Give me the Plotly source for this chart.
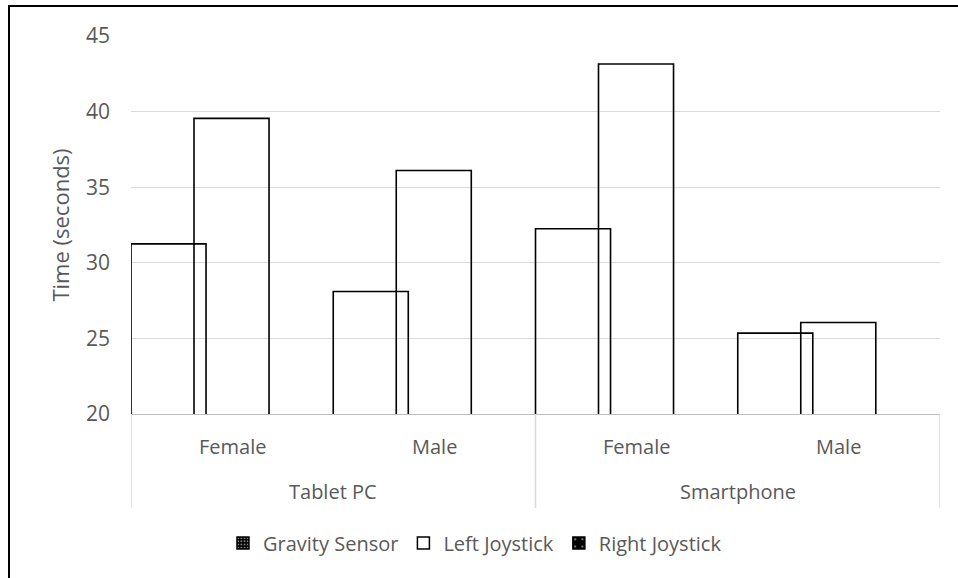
import plotly.graph_objects as go

devices = ["Tablet PC", "Tablet PC", "Smartphone", "Smartphone"]
genders = ["Female", "Male", "Female", "Male"]
gravity_sensor = [31.25, 28.1, 32.25, 25.35]
left_joystick = [39.55, 36.1, 43.15, 26.05]
right_joystick = [None, None, None, None]
y_ticks = [20, 25, 30, 35, 40, 45]

FONT = "Open Sans"
TXT = "#595959"
GRID = "#d9d9d9"

BW = 0.371
STEP = 0.3115

xpos = list(range(len(genders)))

fig = go.Figure()
series = [("Gravity Sensor", gravity_sensor), ("Left Joystick", left_joystick),
          ("Right Joystick", right_joystick)]
for i, (name, vals) in enumerate(series):
    fig.add_trace(go.Bar(
        x=xpos, y=vals, name=name,
        offset=-0.5 + i * STEP, width=BW,
        marker=dict(color="rgba(0,0,0,0)", line=dict(color="black", width=1.6)),
        showlegend=False, hoverinfo="y"))

# legend entries
legend_styles = [
    dict(color="black", line=dict(color="black", width=1.5),
         pattern=dict(shape=".", fgcolor="white", bgcolor="black", size=4, solidity=0.35)),
    dict(color="white", line=dict(color="black", width=1.5)),
    dict(color="black", line=dict(color="black", width=1.5),
         pattern=dict(shape=".", fgcolor="white", bgcolor="black", size=9, solidity=0.08)),
]
for (name, _), st in zip(series, legend_styles):
    fig.add_trace(go.Bar(x=[None], y=[None], name=name, marker=st, showlegend=True))

# category labels (two levels) and dividers
annotations = []
for x, g in zip(xpos, genders):
    annotations.append(dict(x=x, y=-0.0873, xref="x", yref="paper", text=g, showarrow=False,
                            font=dict(size=20, color=TXT), xanchor="center", yanchor="middle"))
groups = []
for x, d in zip(xpos, devices):
    if groups and groups[-1][0] == d:
        groups[-1][2] = x
    else:
        groups.append([d, x, x])
shapes = []
for d, a, b in groups:
    annotations.append(dict(x=(a + b) / 2, y=-0.2063, xref="x", yref="paper", text=d,
                            showarrow=False, font=dict(size=20, color=TXT),
                            xanchor="center", yanchor="middle"))
edges = sorted(set([g[1] - 0.5 for g in groups] + [g[2] + 0.5 for g in groups]))
for e in edges:
    shapes.append(dict(type="line", xref="x", yref="paper", x0=e, x1=e, y0=0, y1=-0.2487,
                       line=dict(color=GRID, width=1.5)))

# outer chart border
shapes.append(dict(type="rect", xref="paper", yref="paper",
                   x0=(9 - 131) / 809, x1=(962 - 131) / 809,
                   y0=(414 - 582) / 378, y1=(414 - 6) / 378,
                   line=dict(color="black", width=2), fillcolor="rgba(0,0,0,0)", layer="above"))

fig.update_layout(
    width=958, height=578,
    margin=dict(l=131, r=18, t=36, b=164),
    paper_bgcolor="white", plot_bgcolor="white",
    barmode="overlay",
    font=dict(family=FONT, size=20, color=TXT),
    showlegend=True,
    legend=dict(orientation="h", x=0.4252, xanchor="center", y=-0.341, yanchor="middle",
                font=dict(size=20, color=TXT), itemwidth=30, traceorder="normal"),
    xaxis=dict(range=[-0.5, 3.5], showgrid=False, showticklabels=False, ticks="",
               zeroline=False, showline=True, linecolor="#bfbfbf", linewidth=1),
    yaxis=dict(range=[20, 45], tickvals=y_ticks, showgrid=True, gridcolor=GRID, gridwidth=1.3,
               zeroline=False, showline=False, ticks="",
               tickfont=dict(size=21, color=TXT), ticklabelstandoff=20,
               title=dict(text="Time (seconds)", font=dict(size=22, color=TXT), standoff=10)),
    annotations=annotations,
    shapes=shapes,
)

fig.write_html("out.html", config={"displayModeBar": False},
               post_script="document.body.style.margin='0';")
